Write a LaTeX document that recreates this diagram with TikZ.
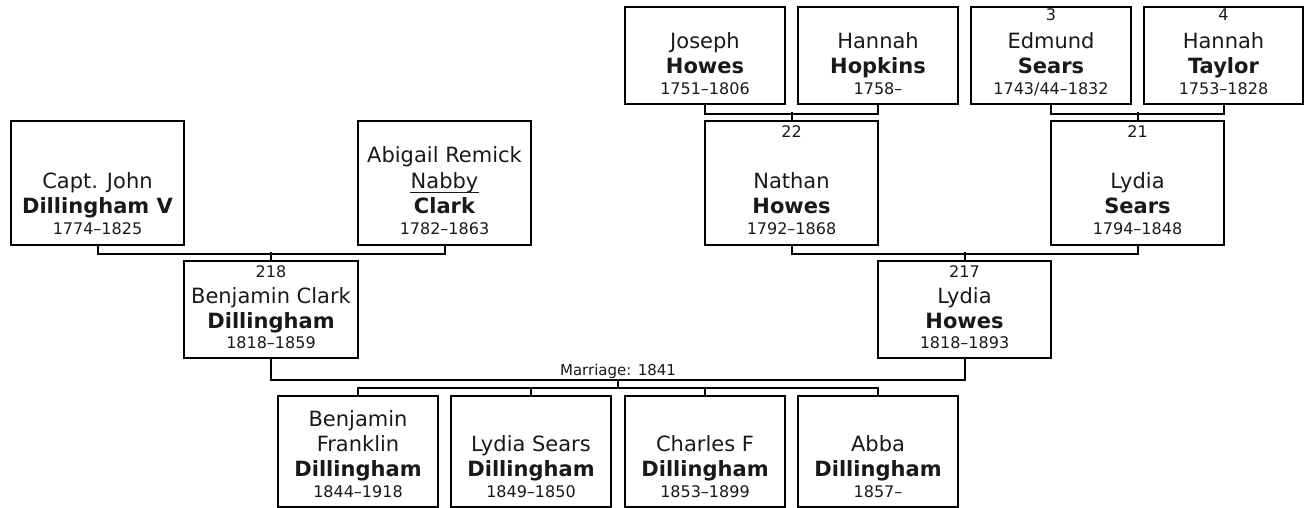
\documentclass[tikz,border=0pt]{standalone}
\usepackage{fontspec}
\setmainfont{DejaVu Sans}
\begin{document}
\begin{tikzpicture}[x=1pt,y=-1pt,
  box/.style={draw=black,line width=2pt,rectangle,inner sep=0pt},
  conn/.style={draw=black,line width=2pt},
  nm/.style={anchor=base,inner sep=0pt,font=\fontsize{21}{25}\selectfont,text=black!90},
  sn/.style={anchor=base,inner sep=0pt,font=\fontsize{21}{25}\selectfont\bfseries,text=black!90},
  dt/.style={anchor=base,inner sep=0pt,font=\fontsize{16}{19}\selectfont,text=black!90},
  top/.style={minimum width=160pt,minimum height=97pt},
  mid/.style={minimum width=173pt,minimum height=124pt},
  low/.style={minimum width=173pt,minimum height=97pt},
  kid/.style={minimum width=160pt,minimum height=111pt}]
\useasboundingbox (0,0) rectangle (1304,508);
% ---- top row
\node[box,top] (joseph) at (705,55.5) {};
\node[nm] (josephA) at (705,49) {Joseph};
\node[sn] (josephB) at (705,74) {Howes};
\node[dt] (josephC) at (705,95) {1751–1806};
\node[box,top] (hopkins) at (878,55.5) {};
\node[nm] (hopkinsA) at (878,49) {Hannah};
\node[sn] (hopkinsB) at (878,74) {Hopkins};
\node[dt] (hopkinsC) at (878,95) {1758–};
\node[box,top] (edmund) at (1051,55.5) {};
\node[dt] (edmundN) at (1051,21) {3};
\node[nm] (edmundA) at (1051,49) {Edmund};
\node[sn] (edmundB) at (1051,74) {Sears};
\node[dt] (edmundC) at (1051,95) {1743/44–1832};
\node[box,top,minimum width=159pt] (taylor) at (1223.5,55.5) {};
\node[dt] (taylorN) at (1223.5,21) {4};
\node[nm] (taylorA) at (1223.5,49) {Hannah};
\node[sn] (taylorB) at (1223.5,74) {Taylor};
\node[dt] (taylorC) at (1223.5,95) {1753–1828};
% ---- second row
\node[box,mid] (john) at (97.5,183) {};
\node[nm] (johnA) at (97.5,188) {Capt. John};
\node[sn] (johnB) at (97.5,213) {Dillingham V};
\node[dt] (johnC) at (97.5,234) {1774–1825};
\node[box,mid] (abigail) at (444.5,183) {};
\node[nm] (abigailA) at (444.5,163) {Abigail Remick};
\node[nm] (nabby) at (444.5,188) {Nabby};
\draw[line width=1.3pt,black!90] ([yshift=-4.5pt]nabby.base west) -- ([yshift=-4.5pt]nabby.base east);
\node[sn] (abigailB) at (444.5,213) {Clark};
\node[dt] (abigailC) at (444.5,234) {1782–1863};
\node[box,mid] (nathan) at (791.5,183) {};
\node[dt] (nathanN) at (791.5,138) {22};
\node[nm] (nathanA) at (791.5,188) {Nathan};
\node[sn] (nathanB) at (791.5,213) {Howes};
\node[dt] (nathanC) at (791.5,234) {1792–1868};
\node[box,mid] (lsears) at (1137.5,183) {};
\node[dt] (lsearsN) at (1137.5,138) {21};
\node[nm] (lsearsA) at (1137.5,188) {Lydia};
\node[sn] (lsearsB) at (1137.5,213) {Sears};
\node[dt] (lsearsC) at (1137.5,234) {1794–1848};
% ---- third row
\node[box,low,minimum width=174pt] (benjamin) at (271,309.5) {};
\node[dt] (benjaminN) at (271,277) {218};
\node[nm] (benjaminA) at (271,303) {Benjamin Clark};
\node[sn] (benjaminB) at (271,328) {Dillingham};
\node[dt] (benjaminC) at (271,348) {1818–1859};
\node[box,low] (lhowes) at (964.5,309.5) {};
\node[dt] (lhowesN) at (964.5,277) {217};
\node[nm] (lhowesA) at (964.5,303) {Lydia};
\node[sn] (lhowesB) at (964.5,328) {Howes};
\node[dt] (lhowesC) at (964.5,348) {1818–1893};
% ---- children
\node[box,kid] (bf) at (358,451.5) {};
\node[nm] (bfA) at (358,426) {Benjamin};
\node[nm] (bfA2) at (358,451) {Franklin};
\node[sn] (bfB) at (358,476) {Dillingham};
\node[dt] (bfC) at (358,497) {1844–1918};
\node[box,kid] (ls) at (531,451.5) {};
\node[nm] (lsA) at (531,451) {Lydia Sears};
\node[sn] (lsB) at (531,476) {Dillingham};
\node[dt] (lsC) at (531,497) {1849–1850};
\node[box,kid] (cf) at (705,451.5) {};
\node[nm] (cfA) at (705,451) {Charles F};
\node[sn] (cfB) at (705,476) {Dillingham};
\node[dt] (cfC) at (705,497) {1853–1899};
\node[box,kid] (ab) at (878,451.5) {};
\node[nm] (abA) at (878,451) {Abba};
\node[sn] (abB) at (878,476) {Dillingham};
\node[dt] (abC) at (878,497) {1857–};
% ---- connectors
\draw[conn] (joseph.south) -- ++(0,9) -| (hopkins.south);
\draw[conn] (nathan.north) -- ++(0,-8);
\draw[conn] (edmund.south) -- ++(0,9) -| (taylor.south);
\draw[conn] (lsears.north) -- ++(0,-8);
\draw[conn] (john.south) -- ++(0,8) -| (abigail.south);
\draw[conn] (benjamin.north) -- ++(0,-8);
\draw[conn] (nathan.south) -- ++(0,8) -| (lsears.south);
\draw[conn] (lhowes.north) -- ++(0,-8);
\draw[conn] (benjamin.south) -- ++(0,21) -| (lhowes.south);
\coordinate (marr) at (618,379);
\node[dt,font=\fontsize{15}{18}\selectfont] (marrlabel) at (618,375) {Marriage: 1841};
\draw[conn] (marr) -- ++(0,10);
\draw[conn] (bf.north) -- ++(0,-7) -| (ab.north);
\draw[conn] (ls.north) -- ++(0,-7);
\draw[conn] (cf.north) -- ++(0,-7);
\end{tikzpicture}
\end{document}
